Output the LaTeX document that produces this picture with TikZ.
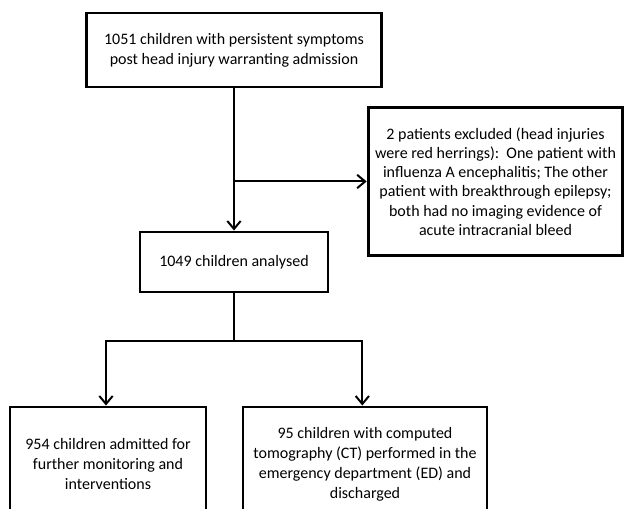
\documentclass[tikz,border=0pt]{standalone}
\usepackage{fontspec}
\setmainfont{Carlito}
\usetikzlibrary{arrows.meta}

\begin{document}
\begin{tikzpicture}[x=0.75pt, y=-0.75pt,
    flowbox/.style={draw, line width=2.2pt, align=center, inner sep=0pt,
        font=\fontsize{12}{15}\selectfont},
    link/.style={line width=1.5pt},
    arr/.style={link, -{Straight Barb[length=6pt, width=10pt]}}]
    \useasboundingbox (0,0) rectangle (625,509);

    % Boxes
    \node[flowbox, minimum width=221pt, minimum height=55.5pt] (start) at (234,50)
        {1051 children with persistent symptoms\\post head injury warranting admission};
    \node[flowbox, minimum width=191pt, minimum height=111pt,
        font=\fontsize{12}{14.4}\selectfont] (excl) at (495.5,181.5)
        {2 patients excluded (head injuries\\were red herrings):\ \ One patient with\\influenza A encephalitis; The other\\patient with breakthrough epilepsy;\\both had no imaging evidence of\\acute intracranial bleed};
    \node[flowbox, minimum width=141pt, minimum height=45pt] (anal) at (234,262)
        {1049 children analysed};
    \node[flowbox, minimum width=147pt, minimum height=85.5pt] (adm) at (108,464)
        {954 children admitted for\\further monitoring and\\interventions};
    \node[flowbox, minimum width=183pt, minimum height=85.5pt] (ct) at (365,464)
        {95 children with computed\\tomography (CT) performed in the\\emergency department (ED) and\\discharged};

    % Connectors
    \draw[arr] (start.south) -- (anal.north);
    \coordinate (split) at (start.south |- excl.west);
    \draw[arr] (split) -- (excl.west);
    \draw[link] (anal.south) -- ++(0,48) coordinate (fork);
    \draw[arr] (fork) -| ([xshift=-1.5pt]adm.north);
    \draw[arr] (fork) -| ([xshift=-2pt]ct.north);
\end{tikzpicture}
\end{document}
